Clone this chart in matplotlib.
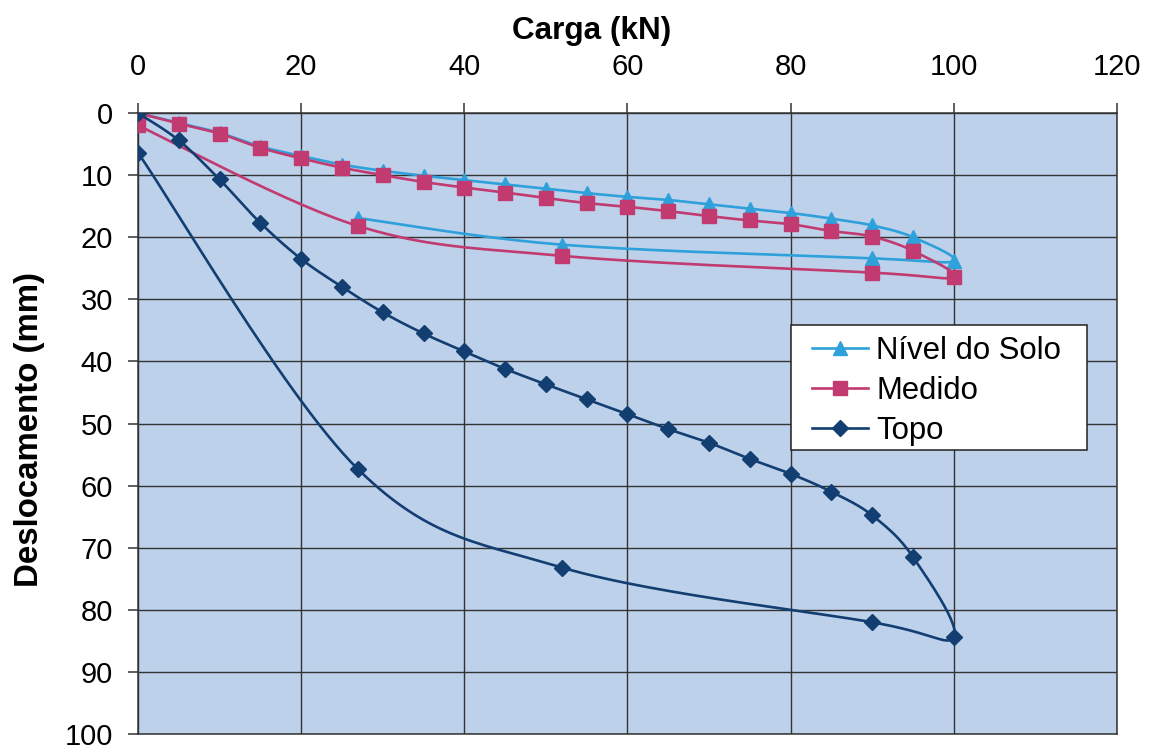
import numpy as np
import matplotlib
matplotlib.use("Agg")
import matplotlib.pyplot as plt
from matplotlib.lines import Line2D
from matplotlib.patches import Rectangle

plt.rcParams['font.family'] = ['Liberation Sans', 'DejaVu Sans']

# ---- data (Carga kN, Deslocamento mm) ----
nivel_x = [0, 5, 10, 15, 20, 25, 30, 35, 40, 45, 50, 55, 60, 65, 70, 75, 80, 85, 90, 95, 100, 90, 52, 27]
nivel_y = [0, 1.6, 3.2, 5.4, 6.9, 8.3, 9.3, 10.1, 10.8, 11.5, 12.2, 12.9, 13.5, 14.0, 14.7, 15.4, 16.1, 17.0, 18.1, 20.0, 23.8, 23.4, 21.2, 16.9]

medido_x = [0, 5, 10, 15, 20, 25, 30, 35, 40, 45, 50, 55, 60, 65, 70, 75, 80, 85, 90, 95, 100, 90, 52, 27, 0]
medido_y = [0, 1.7, 3.3, 5.6, 7.3, 8.8, 10.0, 11.1, 12.0, 12.8, 13.7, 14.5, 15.1, 15.8, 16.6, 17.3, 17.9, 19.0, 19.9, 22.2, 26.4, 25.7, 23.0, 18.2, 2.0]

topo_x = [0, 5, 10, 15, 20, 25, 30, 35, 40, 45, 50, 55, 60, 65, 70, 75, 80, 85, 90, 95, 100, 90, 52, 27, 0]
topo_y = [0, 4.4, 10.7, 17.7, 23.5, 28.0, 32.1, 35.5, 38.4, 41.2, 43.7, 46.1, 48.5, 50.9, 53.1, 55.7, 58.1, 61.0, 64.8, 71.5, 84.3, 82.0, 73.2, 57.4, 6.4]

series_names = ['Nível do Solo', 'Medido', 'Topo']
x_ticks = [0, 20, 40, 60, 80, 100, 120]
y_ticks = [0, 10, 20, 30, 40, 50, 60, 70, 80, 90, 100]


def smooth(xs, ys, n=30):
    """Excel-like smoothed line (Catmull-Rom as cubic Bezier)."""
    P = np.column_stack([xs, ys]).astype(float)
    m = len(P)
    out = []
    t = np.linspace(0, 1, n)[:, None]
    for i in range(m - 1):
        p0 = P[i - 1] if i > 0 else P[i]
        p1, p2 = P[i], P[i + 1]
        p3 = P[i + 2] if i + 2 < m else P[i + 1]
        c1 = p1 + (p2 - p0) / 6.0
        c2 = p2 - (p3 - p1) / 6.0
        seg = (1 - t) ** 3 * p1 + 3 * (1 - t) ** 2 * t * c1 + 3 * (1 - t) * t ** 2 * c2 + t ** 3 * p2
        out.append(seg if i == 0 else seg[1:])
    return np.vstack(out)


fig = plt.figure(figsize=(11.5, 7.5), dpi=100)
ax = fig.add_axes([0.120, 0.0213, 0.8513, 0.828])
ax.set_facecolor('#BED1EA')

styles = [
    (nivel_x, nivel_y, '#2EA0DA', '^', 10.5),
    (medido_x, medido_y, '#C13A70', 's', 10.3),
    (topo_x, topo_y, '#133E72', 'D', 8),
]
handles = []
for k, (xs, ys, col, mk, ms) in enumerate(styles):
    s = smooth(xs, ys)
    ax.plot(s[:, 0], s[:, 1], color=col, lw=1.9, zorder=3 + k, solid_joinstyle='round')
    ax.plot(xs, ys, ls='none', marker=mk, ms=ms, color=col, mec=col, zorder=3.5 + k)
    handles.append(Line2D([], [], color=col, lw=1.9, marker=mk, ms=ms, mec=col))

ax.set_xlim(0, 120)
ax.set_ylim(100, 0)
ax.set_xticks(x_ticks)
ax.set_yticks(y_ticks)
ax.xaxis.tick_top()
ax.tick_params(axis='both', direction='out', length=7, width=1.1, color='#333333',
               labelsize=21, labelcolor='black')
ax.tick_params(axis='x', pad=16)
ax.tick_params(axis='y', pad=11)
ax.grid(True, color='#333333', lw=1.0, zorder=1)
ax.set_axisbelow(True)
for sp in ax.spines.values():
    sp.set_color('#333333')
    sp.set_linewidth(1.1)

ax.xaxis.set_label_position('top')
ax.set_xlabel('Carga (kN)', fontsize=22.7, fontweight='bold', va='center')
ax.xaxis.set_label_coords(0.463, 1.132)
ax.set_ylabel('Deslocamento (mm)', fontsize=23.8, fontweight='bold', va='center')
ax.yaxis.set_label_coords(-0.111, 0.491)

# legend box (white, thin dark border) with the legend entries drawn on top
ax.add_patch(Rectangle((0.667, 0.4573), 0.3024, 0.2013, transform=ax.transAxes,
                       facecolor='white', edgecolor='#222222', lw=1.1, zorder=9,
                       clip_on=False))
leg = ax.legend(handles, series_names, loc='upper left', bbox_to_anchor=(0.684, 0.649),
                borderaxespad=0, fontsize=22.4, frameon=False,
                handlelength=1.8, handletextpad=0.26, labelspacing=0.33,
                borderpad=0.15)
leg.set_zorder(10)

fig.savefig('out.png', dpi=100, facecolor='white')
